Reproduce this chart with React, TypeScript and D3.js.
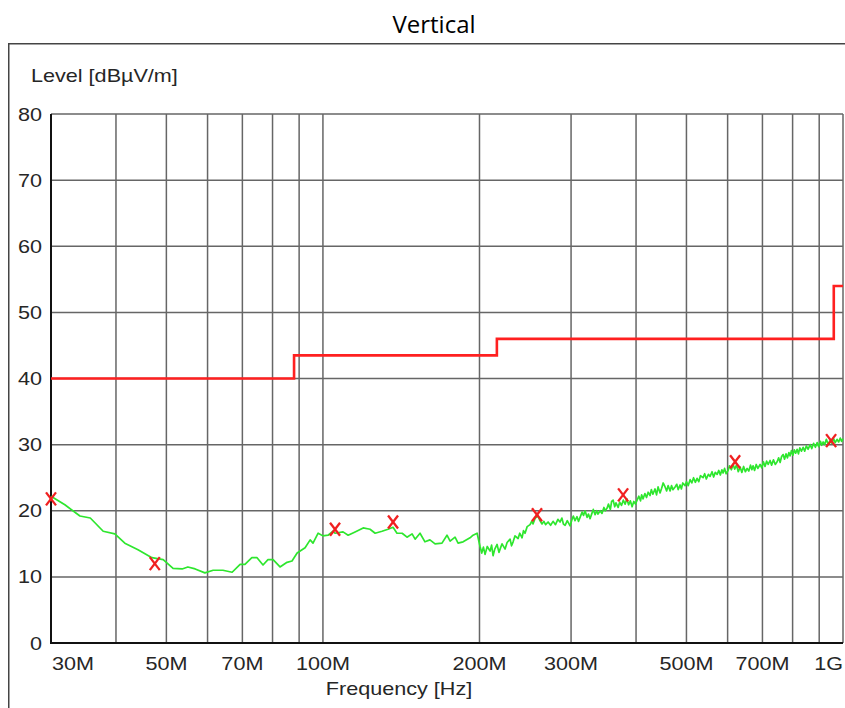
import React from "react";
import * as d3 from "d3";

// Measured trace (frequency in MHz, level in dBµV/m)
const traceFreq: number[] = [
  30, 31.9, 34.1, 35.7, 37.8, 39.8, 41.6, 44.1, 46.9, 49.3, 51.5, 53.6, 55.0, 56.8,
  59.3, 61.5, 64.2, 66.9, 69.3, 70.8, 73.0, 74.7, 76.7, 78.4, 80.2, 82.7, 85.3, 87.2,
  89.2, 92.4, 94.5, 95.7, 97.9, 100.0, 102.3, 104.6, 105.5, 109.3, 111.8, 115.3, 119.5,
  123.2, 126.0, 129.9, 133.4, 136.4, 138.8, 142.0, 145.1, 148.4, 150.4, 153.7, 157.1,
  160.6, 164.3, 169.4, 173.2, 175.6, 179.5, 181.9, 186.0, 191.8, 194.4, 197.9,
  200.5, 202, 203.5, 205, 207, 209.6, 211, 212.4, 214, 216.2, 218, 219.1, 221, 224, 226,
  229, 230.5, 232.1, 234, 237.3, 239, 241.5, 243, 244.7, 247, 250.2, 252, 253.5, 256,
  259.2, 261, 263.8, 266, 268, 271, 274, 277, 280, 283, 285.7, 288, 290, 292.2, 295,
  298.7, 301, 303, 305.3, 308, 310, 312.2, 315, 317, 319.2, 322, 324, 326.3, 329, 331,
  333.7, 336, 338, 341.2, 344, 347, 349, 351.9, 354, 357, 359, 361.4, 364, 366, 369.5,
  372, 375, 378, 381.1, 384, 387, 390, 393.1, 396, 399, 401.8, 405, 408, 410, 412.7,
  416, 419, 422, 425.6, 428, 431, 435.1, 438, 441, 444.9, 448, 451, 454.9, 458, 461,
  465.1, 468, 471, 475.5, 479, 482, 486.1, 489, 492, 497, 500, 504, 508.1, 512, 516,
  520, 524.1, 528, 532, 538.2, 542, 546, 551, 555.2, 560, 564, 568, 572.8, 577, 581,
  585, 588.1, 592, 596, 601.3, 605, 610, 614.7, 619, 624, 629, 634.1, 639, 644, 649,
  654.1, 659, 664, 668, 671.6, 676, 681, 686, 692.8, 698, 703, 708, 713, 718, 724.1,
  729, 735, 741, 747, 752, 757, 762, 767.1, 772, 777, 782, 787, 791.3, 796, 801, 806,
  811, 816.1, 821, 826, 832, 838.2, 844, 850, 857, 864.6, 871, 878, 885, 891.9, 898,
  905, 910, 915.8, 922, 929, 936, 944.7, 952, 959, 966, 974.1, 981, 988, 994, 1000,
];
const traceLevel: number[] = [
  22.2, 20.9, 19.2, 18.9, 16.9, 16.5, 15.1, 14.1, 12.9, 12.6, 11.3, 11.2, 11.5, 11.2,
  10.6, 11.0, 11.0, 10.7, 11.9, 11.9, 12.9, 12.9, 11.8, 12.6, 12.6, 11.5, 12.2, 12.4,
  13.6, 14.4, 15.6, 15.1, 16.6, 16.2, 16.3, 16.9, 16.6, 16.8, 16.3, 16.8, 17.4,
  17.2, 16.6, 16.9, 17.2, 17.5, 16.6, 16.6, 16.0, 16.5, 15.7, 16.6, 15.3,
  15.6, 15.0, 15.1, 16.3, 15.4, 16.0, 15.1, 15.3, 15.9, 16.3, 16.6,
  14.6, 13.6, 14.5, 13.4, 14.6, 13.9, 14.8, 13.2, 14.2, 14.9, 13.7, 14.2, 15.0, 14.2, 15.2,
  15.7, 14.7, 15.3, 16.2, 15.8, 16.6, 15.9, 17.0, 16.6, 17.6, 17.9, 18.4, 18.0, 18.9,
  19.2, 18.6, 18.0, 18.4, 17.9, 18.3, 17.8, 18.4, 17.9, 18.7, 18.3, 18.9, 18.0, 17.8, 18.5,
  17.7, 18.6, 19.2, 18.5, 19.1, 18.4, 19.0, 19.8, 19.3, 20.0, 19.0, 19.5, 18.8, 19.6, 20.2,
  19.4, 20.0, 19.5, 20.0, 19.6, 20.5, 20.0, 20.4, 21.0, 20.2, 21.4, 21.6, 20.6, 21.2, 20.5,
  21.3, 20.8, 21.6, 21.0, 21.8, 20.9, 21.5, 20.6, 21.4, 21.0, 21.6, 22.2, 21.5, 22.4, 21.8,
  22.6, 22.0, 22.8, 22.3, 23.2, 22.5, 23.3, 22.4, 23.6, 22.7, 23.4, 24.2, 23.6, 23.0, 23.8,
  23.0, 23.8, 23.2, 23.6, 24.0, 23.2, 23.9, 23.3, 24.2, 23.8, 24.4, 23.8, 24.7, 24.2, 25.0,
  24.3, 24.9, 24.4, 25.3, 25.0, 25.6, 24.8, 25.5, 25.2, 25.9, 25.1, 25.8, 25.5, 26.1, 25.4,
  26.2, 25.7, 26.4, 25.6, 26.1, 26.8, 26.2, 27.0, 26.3, 26.9, 25.9, 26.6, 25.8, 26.7, 25.9,
  26.4, 26.0, 26.9, 26.2, 26.8, 26.1, 27.0, 26.4, 27.0, 26.5, 27.4, 26.7, 27.5, 27.0, 27.6,
  26.9, 27.7, 27.0, 27.4, 28.0, 27.3, 28.2, 28.5, 27.8, 28.6, 28.0, 28.8, 28.3, 29.1, 28.4, 29.2,
  28.7, 29.3, 28.6, 29.5, 29.0, 29.6, 29.0, 29.8, 29.3, 30.0, 29.4, 30.2, 29.6, 30.3, 29.7,
  30.5, 29.9, 30.4, 30.0, 30.8, 30.1, 30.6, 30.2, 30.9, 30.3, 30.8, 30.4, 31.0, 30.5, 30.9,
];

// Limit line (step)
const limitFreq: number[] = [30, 88, 88, 216, 216, 960, 960, 1000];
const limitLevel: number[] = [40, 40, 43.5, 43.5, 46, 46, 54, 54];

// Final measurement markers
const markerFreq: number[] = [30, 47.5, 105.5, 136.4, 258, 377.7, 620.2, 948.7];
const markerLevel: number[] = [21.8, 12.0, 17.2, 18.3, 19.4, 22.4, 27.4, 30.6];

const gridFreq: number[] = [40, 50, 60, 70, 80, 90, 100, 200, 300, 400, 500, 600, 700, 800, 900, 1000];
const yTicks: number[] = [0, 10, 20, 30, 40, 50, 60, 70, 80];
const xLabelFreq: number[] = [30, 50, 70, 100, 200, 300, 500, 700, 1000];
const xLabelText: string[] = ["30M", "50M", "70M", "100M", "200M", "300M", "500M", "700M", "1G"];

const W = 845;
const H = 708;
const LEFT = 51;
const RIGHT = 843;
const TOP = 114;
const BOTTOM = 643;

const FONT = "'Liberation Sans', Arial, sans-serif";
const SX = 1.2;

function Label({ x, y, anchor, children, size = 18 }: any) {
  return (
    <text
      transform={`translate(${x},${y}) scale(${SX},1)`}
      textAnchor={anchor}
      fontFamily={FONT}
      fontSize={size}
      fill="#262626"
    >
      {children}
    </text>
  );
}

export default function App() {
  const x = d3.scaleLog().domain([30, 1000]).range([LEFT, RIGHT]);
  const y = d3.scaleLinear().domain([0, 80]).range([BOTTOM, TOP]);

  const trace = traceFreq.map((f, i) => [f, traceLevel[i]] as [number, number]);
  const limit = limitFreq.map((f, i) => [f, limitLevel[i]] as [number, number]);
  const line = d3
    .line<[number, number]>()
    .x((d) => x(d[0]))
    .y((d) => y(d[1]));

  return (
    <svg
      width={W}
      height={H}
      style={{ position: "absolute", left: 0, top: 0, background: "#fff" }}
    >
      <rect x={0} y={0} width={W} height={H} fill="#fff" />
      <text
        x={434}
        y={33}
        textAnchor="middle"
        fontFamily="'Open Sans', sans-serif"
        fontSize={24}
        fill="#000"
      >
        Vertical
      </text>
      <rect x={8.75} y={43.75} width={W} height={H} fill="none" stroke="#444" strokeWidth={1.5} />

      <Label x={31} y={82} anchor="start">Level [dBµV/m]</Label>

      {/* grid */}
      {gridFreq.map((f) => (
        <line key={"vx" + f} x1={x(f)} x2={x(f)} y1={TOP} y2={BOTTOM} stroke="#666" strokeWidth={1.5} />
      ))}
      {yTicks.map((t) => (
        <line key={"hy" + t} x1={LEFT} x2={RIGHT} y1={y(t)} y2={y(t)} stroke="#666" strokeWidth={1.5} />
      ))}
      <line x1={LEFT} x2={LEFT} y1={TOP} y2={BOTTOM + 1} stroke="#111" strokeWidth={2} />
      <line x1={LEFT - 1} x2={RIGHT} y1={BOTTOM} y2={BOTTOM} stroke="#111" strokeWidth={2} />

      {yTicks.map((t) => (
        <Label key={"yl" + t} x={42} y={y(t) + 6.5} anchor="end">{t}</Label>
      ))}
      {xLabelFreq.map((f, i) => {
        const anchor = i === 0 ? "start" : i === xLabelFreq.length - 1 ? "end" : "middle";
        const px = i === 0 ? x(f) + 1 : x(f);
        return (
          <Label key={"xl" + f} x={px} y={670} anchor={anchor}>{xLabelText[i]}</Label>
        );
      })}
      <Label x={399} y={695} anchor="middle">Frequency [Hz]</Label>

      {/* limit */}
      <path d={line(limit) || ""} fill="none" stroke="#ff2020" strokeWidth={2.6} strokeLinejoin="miter" />
      {/* trace */}
      <path d={line(trace) || ""} fill="none" stroke="#2ee62e" strokeWidth={1.7} strokeLinejoin="round" />

      {/* markers */}
      {markerFreq.map((f, i) => {
        const cx = x(f);
        const cy = y(markerLevel[i]);
        return (
          <g key={"m" + i} stroke="#f02020" strokeWidth={2.3}>
            <line x1={cx - 5} y1={cy - 6.5} x2={cx + 5} y2={cy + 6.5} />
            <line x1={cx + 5} y1={cy - 6.5} x2={cx - 5} y2={cy + 6.5} />
          </g>
        );
      })}
    </svg>
  );
}
